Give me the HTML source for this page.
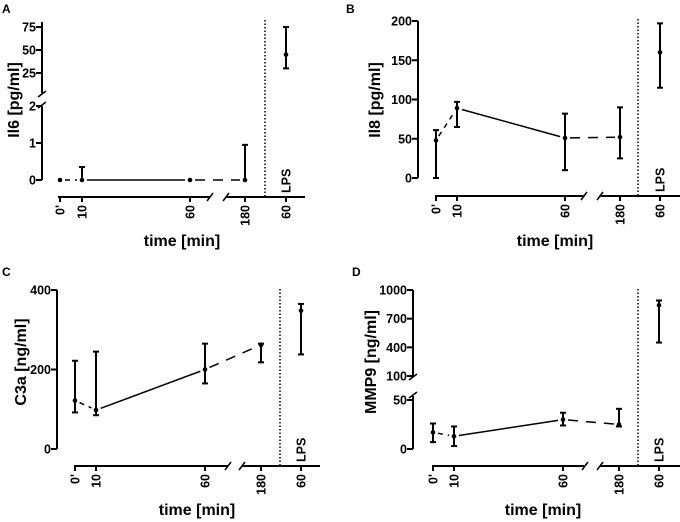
<!DOCTYPE html>
<html><head><meta charset="utf-8"><style>
body{margin:0;background:#fff}
svg{display:block;font-family:"Liberation Sans",Arial,sans-serif;font-weight:bold}
</style></head><body>
<svg id="chart" width="680" height="522" viewBox="0 0 680 522"></svg>
<script>
const categories = ["0'", "10", "60", "180", "60"];
const il6Mean = [0, 0, 0, 0, 45];
const il6Low = [0, 0, 0, 0, 30];
const il6High = [0, 0.35, 0, 0.95, 75];
const il8Mean = [48, 89, 51, 52, 160];
const il8Low = [0, 65, 10, 25, 115];
const il8High = [61, 97, 82, 90, 197];
const c3aMean = [122, 98, 200, 262, 348];
const c3aLow = [92, 85, 165, 218, 238];
const c3aHigh = [222, 245, 265, 265, 365];
const mmp9Mean = [17, 13, 30, 25, 840];
const mmp9Low = [7, 3, 24, 23, 450];
const mmp9High = [26, 23, 37, 41, 890];
const il6Ticks = [0, 1, 2, 25, 50, 75];
const il8Ticks = [0, 50, 100, 150, 200];
const c3aTicks = [0, 200, 400];
const mmp9Ticks = [0, 50, 100, 400, 700, 1000];

const svg = document.getElementById('chart');
const NS = 'http://www.w3.org/2000/svg';
function el(tag, attrs, parent) {
  const e = document.createElementNS(NS, tag);
  for (const k in attrs) e.setAttribute(k, attrs[k]);
  (parent || svg).appendChild(e);
  return e;
}
function makeY(segs) {
  return function (v) {
    for (const s of segs) {
      if (v >= s.v0 && v <= s.v1) return s.p0 + (v - s.v0) / (s.v1 - s.v0) * (s.p1 - s.p0);
    }
    const s = segs[segs.length - 1];
    return s.p0 + (v - s.v0) / (s.v1 - s.v0) * (s.p1 - s.p0);
  };
}

const panels = [
  {key:'a', letter:'A', lx:2, ly:13, ylabel:'Il6 [pg/ml]', ylx:13, yly:100, ax:42,
   segs:[{v0:0,v1:2,p0:180,p1:106,top:106,bot:180},{v0:25,v1:75,p0:73,p1:27,top:22,bot:93}],
   xy:197, xs:58, xe:305, xpos:[60,82,190,245,286], dot:265, brk:[210,226], ticks:il6Ticks,
   mean:il6Mean, low:il6Low, high:il6High, tlx:182, tly:246, ybreak:true},
  {key:'b', letter:'B', lx:346, ly:13, ylabel:'Il8 [pg/ml]', ylx:374, yly:100, ax:418,
   segs:[{v0:0,v1:200,p0:178,p1:21,top:21,bot:178}],
   xy:196, xs:435, xe:680, xpos:[436,457,565,620,660], dot:638, brk:[584,600], ticks:il8Ticks,
   mean:il8Mean, low:il8Low, high:il8High, tlx:555, tly:246},
  {key:'c', letter:'C', lx:2, ly:276, ylabel:'C3a [ng/ml]', ylx:20, yly:362, ax:57,
   segs:[{v0:0,v1:400,p0:449,p1:290,top:290,bot:449}],
   xy:466, xs:74, xe:320, xpos:[75,96,205,261,301], dot:280, brk:[228,242], ticks:c3aTicks,
   mean:c3aMean, low:c3aLow, high:c3aHigh, tlx:197, tly:515},
  {key:'d', letter:'D', lx:352, ly:276, ylabel:'MMP9 [ng/ml]', ylx:370, yly:362, ax:413,
   segs:[{v0:0,v1:50,p0:449,p1:400,top:396,bot:449},{v0:100,v1:1000,p0:376,p1:290,top:290,bot:376}],
   xy:466, xs:432, xe:680, xpos:[433,454,563,619,659], dot:638, brk:[585,600], ticks:mmp9Ticks,
   mean:mmp9Mean, low:mmp9Low, high:mmp9High, tlx:543, tly:515, ybreak:true}
];

panels.forEach(p => {
  const g = el('g', {});
  
  
  const y = makeY(p.segs);
  const L = el('text', {x:p.lx, y:p.ly, 'font-size':12}, g); L.textContent = p.letter;
   
  const yl = el('text', {x:p.ylx, y:p.yly, 'font-size':16, 'text-anchor':'middle', transform:`rotate(-90 ${p.ylx} ${p.yly})`, dy:6}, g);
  yl.textContent = p.ylabel;
   
  p.segs.forEach(s => {
    const ln = el('line', {x1:p.ax, x2:p.ax, y1:s.top, y2:s.bot, stroke:'#000', 'stroke-width':2}, g);
     
  });
  if (p.ybreak) {
    const a = p.segs[0].top, b = p.segs[1].bot;
    el('line', {x1:p.ax-4, x2:p.ax+4, y1:b+4, y2:b-2, stroke:'#000', 'stroke-width':1.5}, g);
    el('line', {x1:p.ax-4, x2:p.ax+4, y1:a+2, y2:a-4, stroke:'#000', 'stroke-width':1.5}, g);
  }
  p.ticks.forEach(t => {
    const ty = y(t);
    el('line', {x1:p.ax-6, x2:p.ax, y1:ty, y2:ty, stroke:'#000', 'stroke-width':2}, g);
    const tt = el('text', {x:p.ax-6, y:ty+4.5, 'font-size':12.5, 'text-anchor':'end'}, g);
    tt.textContent = t;
     
  });
  [[p.xs, p.brk[0]], [p.brk[1], p.xe]].forEach(r => {
    const ln = el('line', {x1:r[0], x2:r[1], y1:p.xy, y2:p.xy, stroke:'#000', 'stroke-width':2}, g);
     
  });
  el('line', {x1:p.brk[0]-3, x2:p.brk[0]+3, y1:p.xy+4, y2:p.xy-4, stroke:'#000', 'stroke-width':1.5}, g);
  el('line', {x1:p.brk[1]-3, x2:p.brk[1]+3, y1:p.xy+4, y2:p.xy-4, stroke:'#000', 'stroke-width':1.5}, g);
  categories.forEach((c, i) => {
    const tx = p.xpos[i];
    el('line', {x1:tx, x2:tx, y1:p.xy, y2:p.xy+5, stroke:'#000', 'stroke-width':2}, g);
    const t = el('text', {x:tx, y:p.xy+8, 'font-size':12.5, 'text-anchor':'end', dy:4.5, transform:`rotate(-90 ${tx} ${p.xy+8})`}, g);
    t.textContent = c;
     
  });
  const lps = el('text', {x:p.xpos[4], y:p.xy-4, 'font-size':12.5, 'text-anchor':'start', dy:4.5, transform:`rotate(-90 ${p.xpos[4]} ${p.xy-4})`}, g);
  lps.textContent = 'LPS';
   
  const dl = el('line', {x1:p.dot, x2:p.dot, y1:p.xy - 177, y2:p.xy, stroke:'#000', 'stroke-width':1.5, 'stroke-dasharray':'1.5,2'}, g);
   
  const xt = el('text', {x:p.tlx, y:p.tly, 'font-size':16, 'text-anchor':'middle'}, g);
  xt.textContent = 'time [min]';
   
  const styles = ['5,5', '', '10,8'];
  for (let i = 0; i < 3; i++) {
    const x1 = p.xpos[i], x2 = p.xpos[i+1], y1 = y(p.mean[i]), y2 = y(p.mean[i+1]);
    const dx = x2 - x1, dy = y2 - y1, len = Math.hypot(dx, dy), gap = 5;
    const ln = el('line', {x1:x1 + dx/len*gap, y1:y1 + dy/len*gap, x2:x2 - dx/len*gap, y2:y2 - dy/len*gap, stroke:'#000', 'stroke-width':1.5}, g);
    if (styles[i]) ln.setAttribute('stroke-dasharray', styles[i]);
     
  }
  categories.forEach((c, i) => {
    const cx = p.xpos[i];
    if (p.high[i] !== p.low[i]) {
      const yh = y(p.high[i]), ylo = y(p.low[i]);
      const eb = el('line', {x1:cx, x2:cx, y1:yh, y2:ylo, stroke:'#000', 'stroke-width':2}, g);
       
      el('line', {x1:cx-3, x2:cx+3, y1:yh, y2:yh, stroke:'#000', 'stroke-width':2}, g);
      if (p.low[i] !== p.mean[i]) el('line', {x1:cx-3, x2:cx+3, y1:ylo, y2:ylo, stroke:'#000', 'stroke-width':2}, g);
    }
    const pt = el('circle', {cx:cx, cy:y(p.mean[i]), r:2.3, fill:'#000'}, g);
     
  });
});
</script>
</body></html>
